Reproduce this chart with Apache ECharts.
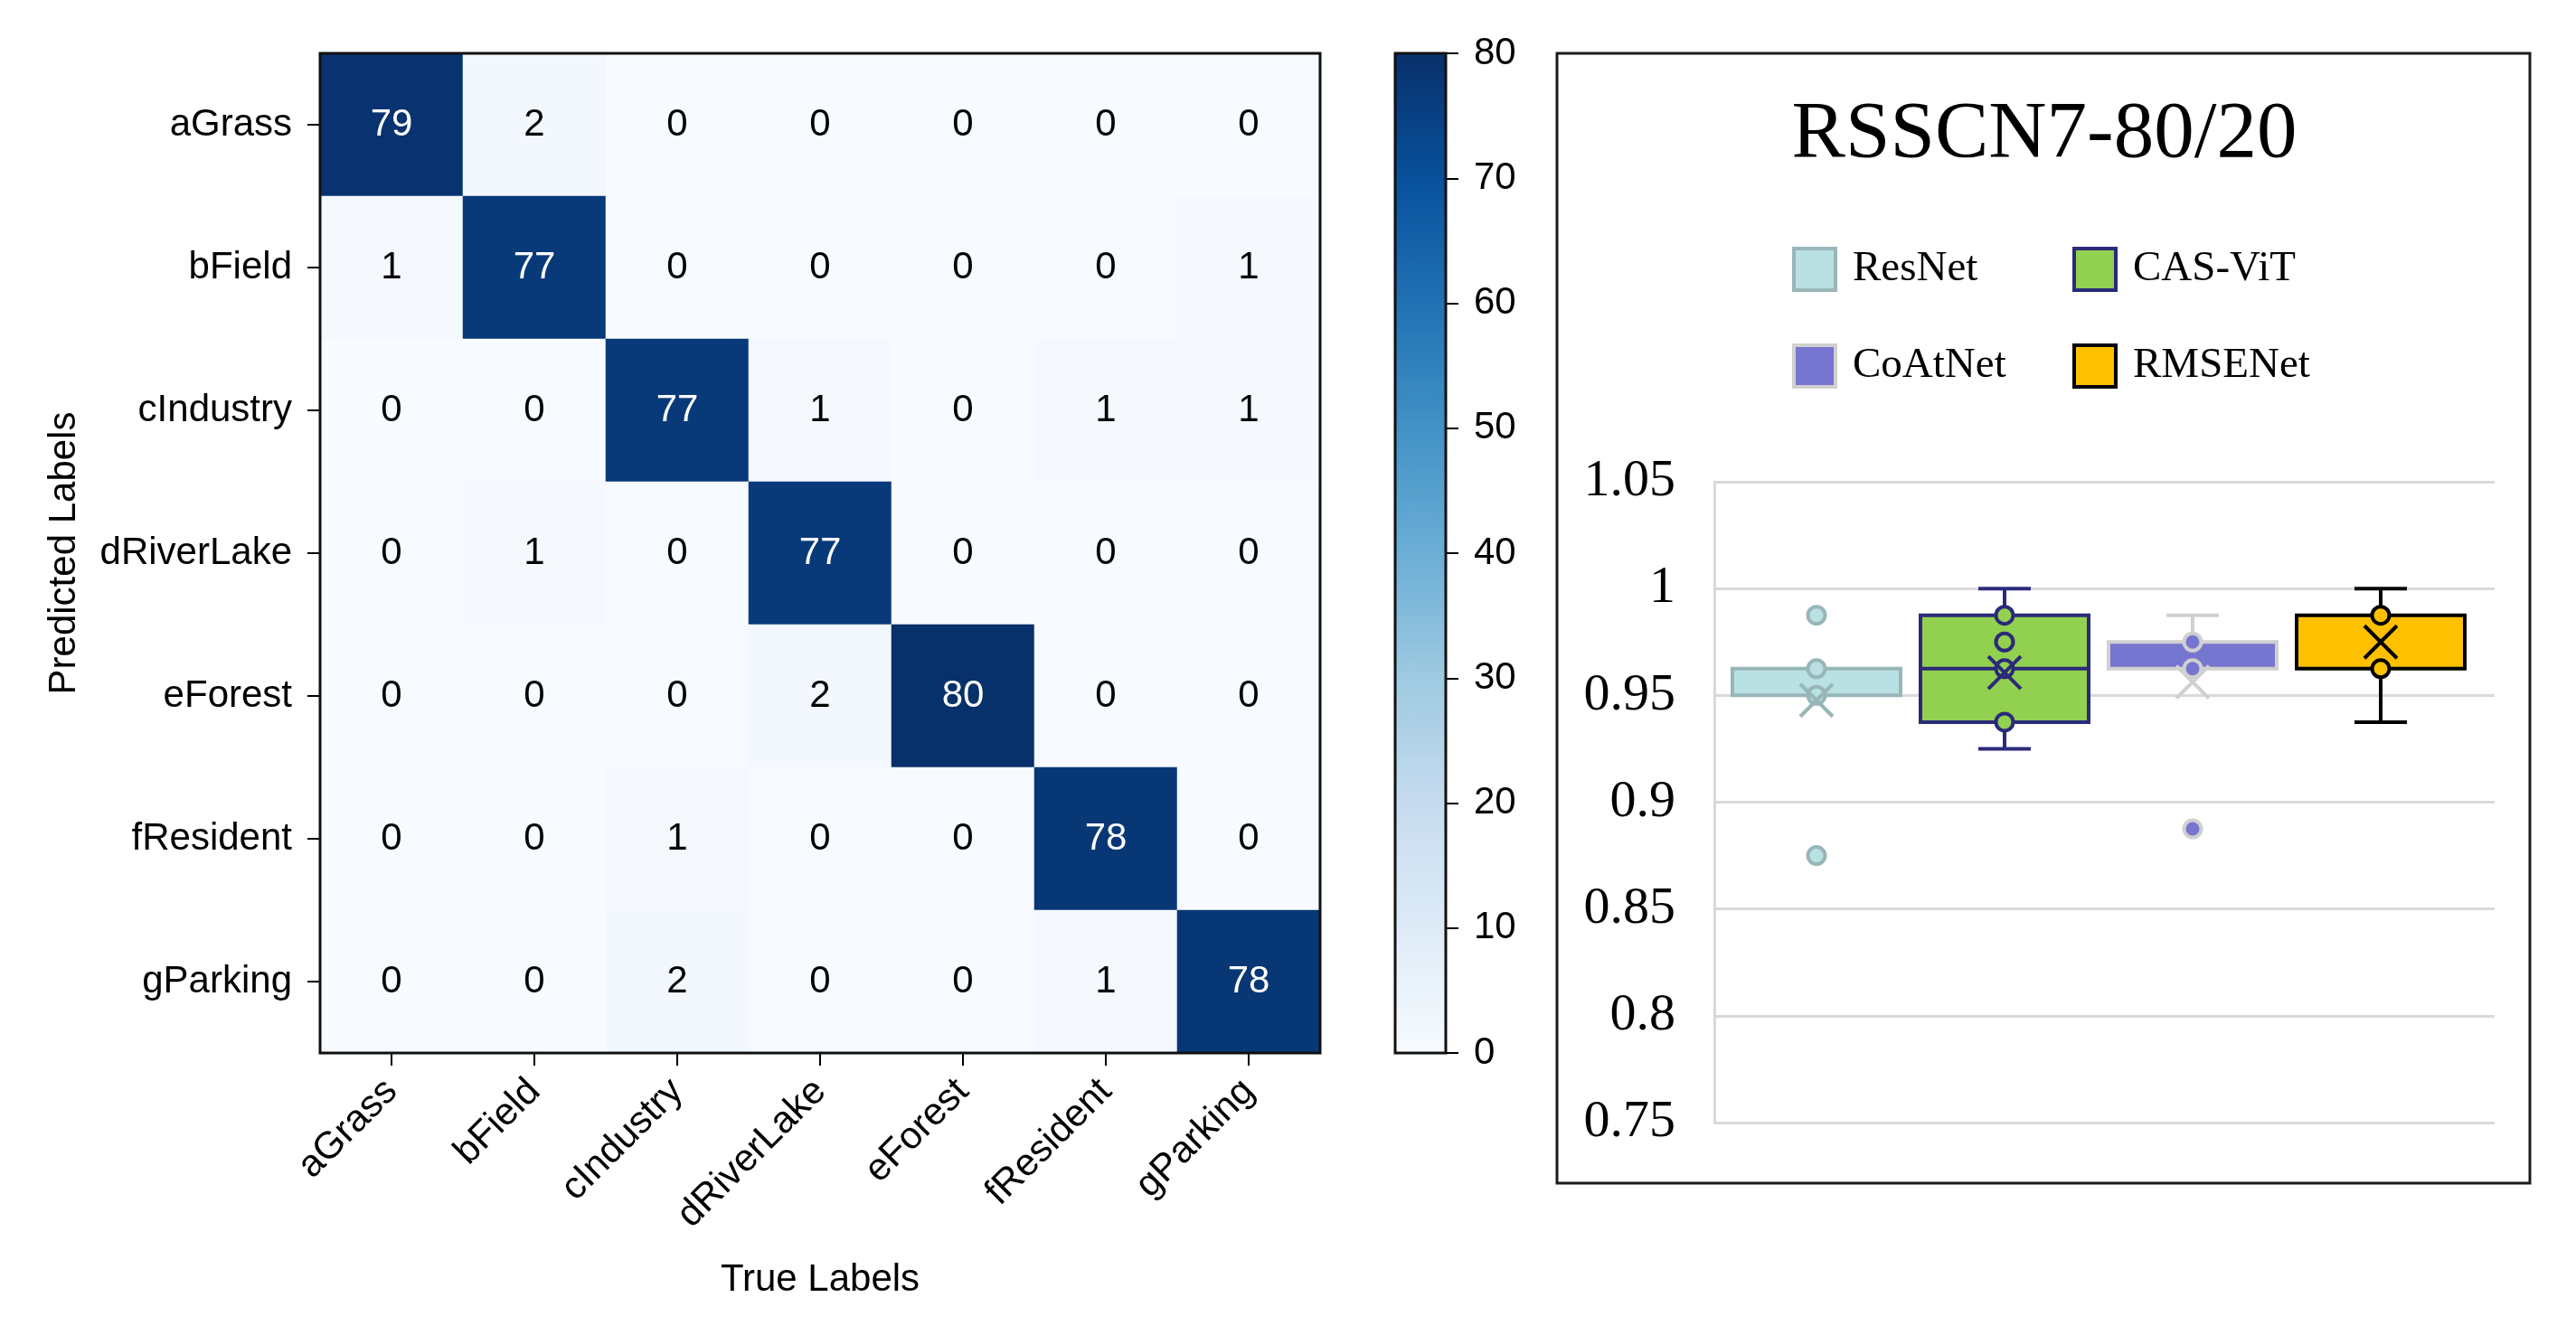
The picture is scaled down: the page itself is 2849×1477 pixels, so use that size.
<!DOCTYPE html>
<html>
<head>
<meta charset="utf-8">
<script src="https://cdn.jsdelivr.net/npm/echarts@6/dist/echarts.min.js"></script>
<style>
html, body {margin: 0; padding: 0; background: #fff;}
#main {width: 2849px; height: 1477px;}
</style>
</head>
<body>
<div id="main"></div>
<script>
// confusion matrix (rows = predicted, cols = true)
var classNames = ['aGrass', 'bField', 'cIndustry', 'dRiverLake', 'eForest', 'fResident', 'gParking'];
var confusion = [
    [79, 2, 0, 0, 0, 0, 0],
    [1, 77, 0, 0, 0, 0, 1],
    [0, 0, 77, 1, 0, 1, 1],
    [0, 1, 0, 77, 0, 0, 0],
    [0, 0, 0, 2, 80, 0, 0],
    [0, 0, 1, 0, 0, 78, 0],
    [0, 0, 2, 0, 0, 1, 78]
];
var blues = ['#f7fbff', '#deebf7', '#c6dbef', '#9ecae1', '#6baed6', '#4292c6', '#2171b5', '#08519c', '#08306b'];

// box plot, RSSCN7-80/20
var models = ['ResNet', 'CAS-ViT', 'CoAtNet', 'RMSENet'];
var boxLow = [0.95, 0.925, 0.9625, 0.9375];
var boxQ1 = [0.95, 0.9375, 0.9625, 0.9625];
var boxMedian = [0.95, 0.9625, 0.9625, 0.9625];
var boxQ3 = [0.9625, 0.9875, 0.975, 0.9875];
var boxHigh = [0.9625, 1.0, 0.9875, 1.0];
var boxMean = [0.9477, 0.9607, 0.9562, 0.975];
var boxPoints = [
    [0.9875, 0.9625, 0.95, 0.875],
    [0.9875, 0.975, 0.9625, 0.9375],
    [0.975, 0.9625, 0.8875],
    [0.9875, 0.9625]
];
var fills = ['#b9e0e3', '#92d050', '#7676d0', '#ffc000'];
var strokes = ['#98b6b8', '#2b2a7a', '#d0d0d0', '#000000'];

var sans = 'Liberation Sans';
var serif = 'Liberation Serif';

var heatData = [];
confusion.forEach(function (row, r) {
    row.forEach(function (v, c) {
        heatData.push({value: [c, r, v], label: {color: v > 40 ? '#fff' : '#000'}});
    });
});

function boxRenderer(k) {
    return function (params, api) {
        var c = api.value(0);
        var pLow = api.coord([c, api.value(1)]);
        var pQ1 = api.coord([c, api.value(2)]);
        var pMed = api.coord([c, api.value(3)]);
        var pQ3 = api.coord([c, api.value(4)]);
        var pHigh = api.coord([c, api.value(5)]);
        var x = pQ1[0];
        var half = 93, cap = 29;
        var ls = {stroke: strokes[k], lineWidth: 4};
        var children = [];
        if (pHigh[1] < pQ3[1] - 0.5) {
            children.push({type: 'line', shape: {x1: x, y1: pQ3[1], x2: x, y2: pHigh[1]}, style: ls});
            children.push({type: 'line', shape: {x1: x - cap, y1: pHigh[1], x2: x + cap, y2: pHigh[1]}, style: ls});
        }
        if (pLow[1] > pQ1[1] + 0.5) {
            children.push({type: 'line', shape: {x1: x, y1: pQ1[1], x2: x, y2: pLow[1]}, style: ls});
            children.push({type: 'line', shape: {x1: x - cap, y1: pLow[1], x2: x + cap, y2: pLow[1]}, style: ls});
        }
        children.push({
            type: 'rect',
            shape: {x: x - half, y: pQ3[1], width: half * 2, height: pQ1[1] - pQ3[1]},
            style: {fill: fills[k], stroke: strokes[k], lineWidth: 4}
        });
        if (pMed[1] < pQ1[1] - 0.5 && pMed[1] > pQ3[1] + 0.5) {
            children.push({type: 'line', shape: {x1: x - half, y1: pMed[1], x2: x + half, y2: pMed[1]}, style: ls});
        }
        return {type: 'group', children: children};
    };
}

function meanRenderer(k) {
    return function (params, api) {
        var p = api.coord([api.value(0), api.value(1)]);
        var s = 18;
        var ls = {stroke: strokes[k], lineWidth: 4};
        return {type: 'group', children: [
            {type: 'line', shape: {x1: p[0] - s, y1: p[1] - s, x2: p[0] + s, y2: p[1] + s}, style: ls},
            {type: 'line', shape: {x1: p[0] - s, y1: p[1] + s, x2: p[0] + s, y2: p[1] - s}, style: ls}
        ]};
    };
}

var series = [{
    type: 'heatmap',
    xAxisIndex: 0,
    yAxisIndex: 0,
    data: heatData,
    label: {
        show: true,
        fontFamily: sans,
        fontSize: 42,
        formatter: function (p) { return p.value[2]; }
    },
    emphasis: {disabled: true}
}];

models.forEach(function (m, k) {
    series.push({
        name: m,
        type: 'custom',
        xAxisIndex: 3,
        yAxisIndex: 3,
        z: 2,
        itemStyle: {color: fills[k], borderColor: strokes[k]},
        encode: {x: 0, y: [1, 2, 3, 4, 5]},
        renderItem: boxRenderer(k),
        data: [[k, boxLow[k], boxQ1[k], boxMedian[k], boxQ3[k], boxHigh[k]]]
    });
    series.push({
        type: 'scatter',
        xAxisIndex: 3,
        yAxisIndex: 3,
        z: 3,
        symbol: 'circle',
        symbolSize: 19,
        itemStyle: {color: fills[k], borderColor: strokes[k], borderWidth: 4, opacity: 1},
        data: boxPoints[k].map(function (v) { return [k, v]; })
    });
    series.push({
        type: 'custom',
        xAxisIndex: 3,
        yAxisIndex: 3,
        z: 4,
        encode: {x: 0, y: 1},
        renderItem: meanRenderer(k),
        data: [[k, boxMean[k]]]
    });
});

function legendFor(k, left, top) {
    return {
        left: left,
        top: top,
        padding: 0,
        selectedMode: false,
        icon: 'rect',
        itemWidth: 46,
        itemHeight: 46,
        textStyle: {fontFamily: serif, fontSize: 47, color: '#000', padding: [0, 0, 0, 14]},
        data: [{name: models[k], itemStyle: {color: fills[k], borderColor: strokes[k], borderWidth: 4}}]
    };
}

var option = {
    backgroundColor: '#fff',
    animation: false,
    title: {
        text: 'RSSCN7-80/20',
        left: 2261,
        top: 105,
        padding: 0,
        textAlign: 'center',
        textStyle: {fontFamily: serif, fontSize: 89, fontWeight: 'normal', color: '#000'}
    },
    legend: [
        legendFor(0, 1982, 273),
        legendFor(1, 2292, 273),
        legendFor(2, 1982, 380),
        legendFor(3, 2292, 380)
    ],
    visualMap: {
        type: 'continuous',
        seriesIndex: 0,
        min: 0,
        max: 80,
        calculable: false,
        left: 1543,
        top: 59,
        padding: 0,
        itemWidth: 56,
        itemHeight: 1106,
        inRange: {color: blues}
    },
    grid: [
        {left: 354, top: 59, width: 1106, height: 1106, show: true, z: 10,
            backgroundColor: 'rgba(0,0,0,0)', borderColor: '#111', borderWidth: 3},
        {left: 1543, top: 59, width: 56, height: 1106, show: true, z: 10,
            backgroundColor: 'rgba(0,0,0,0)', borderColor: '#111', borderWidth: 3},
        {left: 1896, top: 533, width: 863, height: 709},
        {left: 1905, top: 533, width: 832, height: 709}
    ],
    xAxis: [
        {
            gridIndex: 0,
            type: 'category',
            data: classNames,
            axisLine: {show: false},
            axisTick: {show: true, alignWithLabel: true, length: 14, lineStyle: {color: '#000', width: 2}},
            axisLabel: {rotate: 45, interval: 0, margin: 36, fontFamily: sans, fontSize: 42, color: '#000'},
            splitLine: {show: false},
            name: 'True Labels',
            nameLocation: 'middle',
            nameGap: 230,
            nameTextStyle: {fontFamily: sans, fontSize: 42, color: '#000'}
        },
        {gridIndex: 1, type: 'value', show: false, min: 0, max: 1},
        {gridIndex: 2, type: 'value', show: false, min: 0, max: 1},
        {gridIndex: 3, type: 'category', show: false, data: models}
    ],
    yAxis: [
        {
            gridIndex: 0,
            type: 'category',
            data: classNames,
            inverse: true,
            axisLine: {show: false},
            axisTick: {show: true, alignWithLabel: true, length: 14, lineStyle: {color: '#000', width: 2}},
            axisLabel: {interval: 0, margin: 31, fontFamily: sans, fontSize: 42, color: '#000'},
            splitLine: {show: false},
            name: 'Predicted Labels',
            nameLocation: 'middle',
            nameRotate: 90,
            nameGap: 262,
            nameTextStyle: {fontFamily: sans, fontSize: 42, color: '#000'}
        },
        {
            gridIndex: 1,
            type: 'value',
            position: 'right',
            min: 0,
            max: 80,
            interval: 10,
            z: 10,
            axisLine: {show: false, onZero: false},
            axisTick: {show: true, inside: false, length: 14, lineStyle: {color: '#000', width: 2}},
            axisLabel: {margin: 31, fontFamily: sans, fontSize: 42, color: '#000'},
            splitLine: {show: false}
        },
        {
            gridIndex: 2,
            type: 'value',
            min: 0.75,
            max: 1.05,
            interval: 0.05,
            axisLine: {show: true, onZero: false, lineStyle: {color: '#d9d9d9', width: 3}},
            axisTick: {show: false},
            axisLabel: {
                margin: 43,
                padding: [20, 0, 0, 0],
                fontFamily: serif,
                fontSize: 58,
                color: '#000',
                formatter: function (v) { return String(+v.toFixed(2)); }
            },
            splitLine: {show: true, lineStyle: {color: '#d9d9d9', width: 3}}
        },
        {gridIndex: 3, type: 'value', show: false, min: 0.75, max: 1.05}
    ],
    graphic: [{
        type: 'rect',
        shape: {x: 1722, y: 59, width: 1076, height: 1250},
        style: {fill: 'none', stroke: '#1a1a1a', lineWidth: 3},
        silent: true,
        z: 0
    }],
    series: series
};

var chart = echarts.init(document.getElementById('main'));
chart.setOption(option);
</script>
</body>
</html>
